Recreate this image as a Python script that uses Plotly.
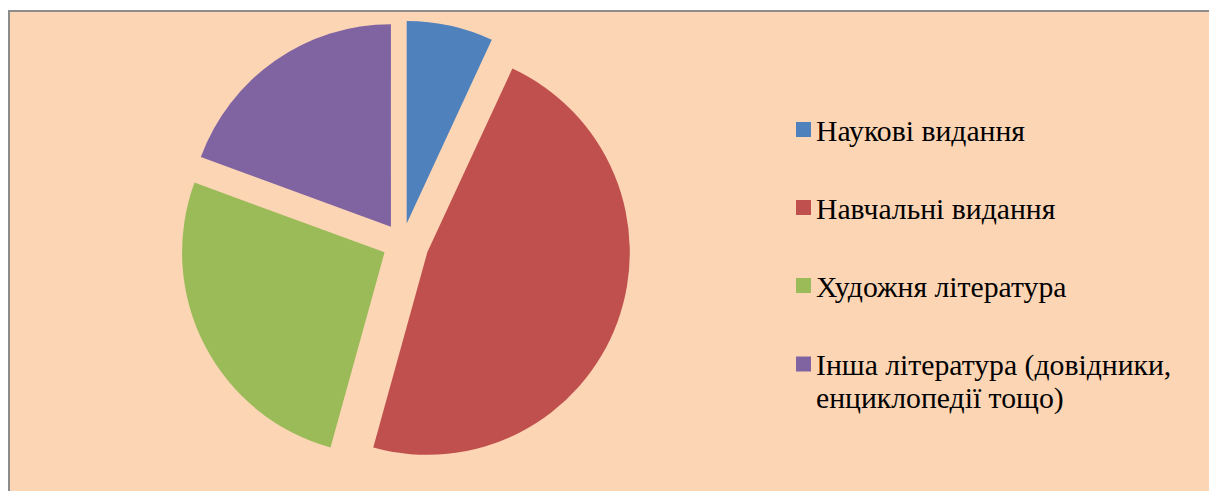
import plotly.graph_objects as go

# ---- data ----
labels = ["Наукові видання", "Навчальні видання", "Художня література",
          "Інша література (довідники, енциклопедії тощо)"]
legend_lines = [["Наукові видання"], ["Навчальні видання"], ["Художня література"],
                ["Інша література (довідники,", "енциклопедії тощо)"]]
values = [6.9, 47.4, 26.3, 19.4]
colors = ["#4F81BD", "#C0504D", "#9BBB59", "#8064A2"]
pulls = [0.099, 0.131, 0.099, 0.099]

# the page body has an 8px margin; figure fills the rest of the window
OFF = 8
W, H = 1217 - OFF, 491 - OFF
BG = "#FCD5B5"
FONT = "Liberation Serif"

def px(x):
    return (x - OFF) / W

def py(y):
    return (H - (y - OFF)) / H

# pie geometry (screen pixels)
cx, cy = 402.4, 243.2
R = 202.5
half = R * (1 + max(pulls))

fig = go.Figure(go.Pie(
    labels=labels, values=values, sort=False, direction="clockwise", rotation=0,
    pull=pulls, marker=dict(colors=colors, line=dict(width=0)),
    textinfo="none", hoverinfo="label+percent", showlegend=False,
    domain=dict(x=[px(cx - half), px(cx + half)], y=[py(cy + half), py(cy - half)]),
))

shapes = [
    dict(type="rect", xref="paper", yref="paper", layer="below",
         x0=px(9), x1=1.02, y0=-0.02, y1=py(11),
         fillcolor=BG, line=dict(color="#8C8C8C", width=2)),
]
annotations = []

centers = [129.5, 207.5, 285.5, 364.0]
line_gap = 33
for i, (lines, col) in enumerate(zip(legend_lines, colors)):
    c = centers[i]
    shapes.append(dict(type="rect", xref="paper", yref="paper", layer="above",
                       x0=px(796), x1=px(811), y0=py(c + 7.5), y1=py(c - 7.5),
                       fillcolor=col, line=dict(width=0)))
    for j, t in enumerate(lines):
        annotations.append(dict(xref="paper", yref="paper", x=px(814), y=py(c + 1 + j * line_gap),
                                xanchor="left", yanchor="middle", showarrow=False, text=t,
                                font=dict(family=FONT, size=29.7, color="#000000")))

fig.update_layout(
    width=W, height=H, margin=dict(l=0, r=0, t=0, b=0),
    paper_bgcolor="#FFFFFF", plot_bgcolor="#FFFFFF",
    font=dict(family=FONT),
    shapes=shapes, annotations=annotations,
)

fig.write_html("out.html")
